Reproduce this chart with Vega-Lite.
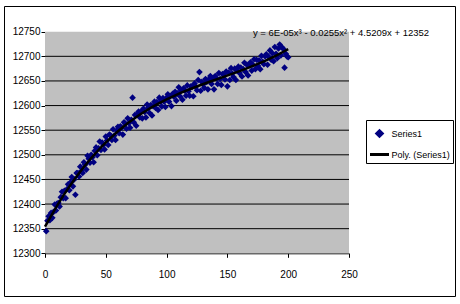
{
  "$schema": "https://vega.github.io/schema/vega-lite/v6.json",
  "width": 451,
  "height": 290,
  "autosize": {"type": "none"},
  "padding": {"left": 4, "top": 6, "right": 5, "bottom": 8},
  "background": "white",
  "config": {
    "view": {"stroke": "black", "strokeWidth": 1, "fill": "white"},
    "font": "Liberation Sans",
    "axis": {"labelOverlap": false, "labelBound": false, "labelFlush": false,
             "domainColor": "black", "tickColor": "black", "tickSize": 4, "grid": false,
             "labelColor": "black", "labelFontSize": 10, "labelFont": "Liberation Sans"},
    "axisX": {"offset": -42.7, "labelPadding": 12, "tickCount": 12},
    "axisY": {"offset": -41, "labelPadding": 1, "format": "d", "tickCount": 12}
  },
  "datasets": {
    "pts": [
      {"x":1,"y":12345},{"x":2,"y":12366},{"x":3,"y":12375},{"x":4,"y":12367},{"x":5,"y":12382},
      {"x":6,"y":12372},{"x":7,"y":12384},{"x":8,"y":12399},{"x":9,"y":12387},{"x":10,"y":12401},
      {"x":11,"y":12402},{"x":12,"y":12395},{"x":13,"y":12414},{"x":14,"y":12425},{"x":15,"y":12412},
      {"x":16,"y":12427},{"x":17,"y":12412},{"x":18,"y":12430},{"x":19,"y":12440},{"x":20,"y":12428},
      {"x":21,"y":12444},{"x":22,"y":12455},{"x":23,"y":12436},{"x":24,"y":12450},{"x":25,"y":12419},
      {"x":26,"y":12463},{"x":27,"y":12463},{"x":28,"y":12456},{"x":29,"y":12476},{"x":30,"y":12467},
      {"x":31,"y":12463},{"x":32,"y":12485},{"x":33,"y":12480},{"x":34,"y":12470},{"x":35,"y":12498},
      {"x":36,"y":12492},{"x":37,"y":12484},{"x":38,"y":12500},{"x":39,"y":12495},{"x":40,"y":12485},
      {"x":41,"y":12508},{"x":42,"y":12515},{"x":43,"y":12499},{"x":44,"y":12513},{"x":45,"y":12527},
      {"x":46,"y":12510},{"x":47,"y":12525},{"x":48,"y":12520},{"x":49,"y":12511},{"x":50,"y":12537},
      {"x":51,"y":12529},{"x":52,"y":12520},{"x":53,"y":12541},{"x":54,"y":12539},{"x":55,"y":12530},
      {"x":56,"y":12552},{"x":57,"y":12539},{"x":58,"y":12530},{"x":59,"y":12549},{"x":60,"y":12557},
      {"x":61,"y":12544},{"x":62,"y":12558},{"x":63,"y":12555},{"x":64,"y":12541},{"x":65,"y":12566},
      {"x":66,"y":12563},{"x":67,"y":12553},{"x":68,"y":12574},{"x":69,"y":12564},{"x":70,"y":12555},
      {"x":71,"y":12571},{"x":72,"y":12616},{"x":73,"y":12566},{"x":74,"y":12581},{"x":75,"y":12559},
      {"x":76,"y":12582},{"x":77,"y":12588},{"x":78,"y":12576},{"x":79,"y":12588},{"x":80,"y":12574},
      {"x":81,"y":12594},{"x":82,"y":12587},{"x":83,"y":12576},{"x":84,"y":12602},{"x":85,"y":12595},
      {"x":86,"y":12585},{"x":87,"y":12601},{"x":88,"y":12580},{"x":89,"y":12599},{"x":90,"y":12608},
      {"x":91,"y":12595},{"x":92,"y":12607},{"x":93,"y":12591},{"x":94,"y":12616},{"x":95,"y":12608},
      {"x":96,"y":12598},{"x":97,"y":12615},{"x":98,"y":12608},{"x":99,"y":12597},{"x":100,"y":12616},
      {"x":101,"y":12623},{"x":102,"y":12608},{"x":103,"y":12619},{"x":104,"y":12599},{"x":105,"y":12624},
      {"x":106,"y":12618},{"x":107,"y":12628},{"x":108,"y":12610},{"x":109,"y":12625},{"x":110,"y":12637},
      {"x":111,"y":12619},{"x":112,"y":12630},{"x":113,"y":12612},{"x":114,"y":12635},{"x":115,"y":12630},
      {"x":116,"y":12620},{"x":117,"y":12641},{"x":118,"y":12629},{"x":119,"y":12620},{"x":120,"y":12639},
      {"x":121,"y":12638},{"x":122,"y":12619},{"x":123,"y":12645},{"x":124,"y":12638},{"x":125,"y":12631},
      {"x":126,"y":12652},{"x":127,"y":12668},{"x":128,"y":12630},{"x":129,"y":12648},{"x":130,"y":12643},
      {"x":131,"y":12636},{"x":132,"y":12654},{"x":133,"y":12648},{"x":134,"y":12633},{"x":135,"y":12654},
      {"x":136,"y":12660},{"x":137,"y":12644},{"x":138,"y":12655},{"x":139,"y":12633},{"x":140,"y":12660},
      {"x":141,"y":12655},{"x":142,"y":12644},{"x":143,"y":12666},{"x":144,"y":12654},{"x":145,"y":12642},
      {"x":146,"y":12664},{"x":147,"y":12662},{"x":148,"y":12653},{"x":149,"y":12669},{"x":150,"y":12639},
      {"x":151,"y":12667},{"x":152,"y":12652},{"x":153,"y":12676},{"x":154,"y":12665},{"x":155,"y":12658},
      {"x":156,"y":12675},{"x":157,"y":12652},{"x":158,"y":12671},{"x":159,"y":12679},{"x":160,"y":12666},
      {"x":161,"y":12677},{"x":162,"y":12659},{"x":163,"y":12674},{"x":164,"y":12687},{"x":165,"y":12668},
      {"x":166,"y":12683},{"x":167,"y":12661},{"x":168,"y":12682},{"x":169,"y":12688},{"x":170,"y":12671},
      {"x":171,"y":12683},{"x":172,"y":12694},{"x":173,"y":12674},{"x":174,"y":12693},{"x":175,"y":12681},
      {"x":176,"y":12692},{"x":177,"y":12674},{"x":178,"y":12701},{"x":179,"y":12689},{"x":180,"y":12684},
      {"x":181,"y":12700},{"x":182,"y":12704},{"x":183,"y":12683},{"x":184,"y":12699},{"x":185,"y":12712},
      {"x":186,"y":12693},{"x":187,"y":12706},{"x":188,"y":12690},{"x":189,"y":12719},{"x":190,"y":12705},
      {"x":191,"y":12696},{"x":192,"y":12716},{"x":193,"y":12724},{"x":194,"y":12702},{"x":195,"y":12718},
      {"x":196,"y":12715},{"x":197,"y":12677},{"x":198,"y":12705},{"x":199,"y":12700},{"x":200,"y":12698}
    ],
    "grid": [
      {"g":12350},{"g":12400},{"g":12450},{"g":12500},{"g":12550},{"g":12600},{"g":12650},{"g":12700}
    ]
  },
  "layer": [
    {
      "data": {"values": [{}]},
      "mark": {"type": "rect", "fill": "#C0C0C0"},
      "encoding": {
        "x": {"datum": 0, "type": "quantitative", "title": null,
              "scale": {"domain": [0, 250], "range": [41, 345], "nice": false, "zero": false},
              "axis": {"values": [0, 50, 100, 150, 200, 250], "labelOverlap": false}},
        "x2": {"datum": 250},
        "y": {"datum": 12300, "type": "quantitative", "title": null,
              "scale": {"domain": [12300, 12750], "range": [247.3, 25.7], "nice": false, "zero": false},
              "axis": {"values": [12300, 12350, 12400, 12450, 12500, 12550, 12600, 12650, 12700, 12750], "labelOverlap": false}},
        "y2": {"datum": 12750}
      }
    },
    {
      "data": {"name": "grid"},
      "mark": {"type": "rule", "color": "black", "strokeWidth": 1},
      "encoding": {
        "x": {"datum": 0, "type": "quantitative", "title": null,
              "axis": {"values": [0, 50, 100, 150, 200, 250], "labelOverlap": false}},
        "x2": {"datum": 250},
        "y": {"field": "g", "type": "quantitative", "title": null,
              "axis": {"values": [12300, 12350, 12400, 12450, 12500, 12550, 12600, 12650, 12700, 12750], "labelOverlap": false}}
      }
    },
    {
      "data": {"name": "pts"},
      "mark": {"type": "point", "shape": "diamond", "filled": true, "size": 44, "opacity": 1},
      "encoding": {
        "x": {"field": "x", "type": "quantitative", "title": null,
              "axis": {"values": [0, 50, 100, 150, 200, 250], "labelOverlap": false}},
        "y": {"field": "y", "type": "quantitative", "title": null,
              "axis": {"values": [12300, 12350, 12400, 12450, 12500, 12550, 12600, 12650, 12700, 12750], "labelOverlap": false}},
        "color": {
          "datum": "Series1",
          "scale": {"domain": ["Series1", "Poly. (Series1)"], "range": ["#000080", "#000000"]},
          "legend": {
            "title": null, "orient": "none", "legendX": 362, "legendY": 114,
            "strokeColor": "black", "fillColor": "white", "padding": 2.5,
            "symbolType": "stroke",
            "symbolSize": {"expr": "datum.value === 'Series1' ? 30 : 361"},
            "symbolStrokeWidth": 3,
            "labelFont": "Liberation Sans",
            "labelFontSize": 9, "labelColor": "black", "labelOffset": 1, "rowPadding": 1,
            "encode": {
              "symbols": {
                "update": {
                  "shape": {"signal": "datum.value === 'Series1' ? 'diamond' : 'stroke'"},
                  "fill": {"signal": "datum.value === 'Series1' ? '#000080' : 'transparent'"},
                  "stroke": {"signal": "datum.value === 'Series1' ? 'transparent' : '#000000'"},
                  "strokeWidth": {"value": 3},
                  "opacity": {"value": 1}
                }
              }
            }
          }
        }
      }
    },
    {
      "data": {"name": "pts"},
      "transform": [
        {"regression": "y", "on": "x", "method": "poly", "order": 3, "extent": [0, 200]}
      ],
      "mark": {"type": "line", "strokeWidth": 2.5},
      "encoding": {
        "x": {"field": "x", "type": "quantitative", "title": null,
              "axis": {"values": [0, 50, 100, 150, 200, 250], "labelOverlap": false}},
        "y": {"field": "y", "type": "quantitative", "title": null,
              "axis": {"values": [12300, 12350, 12400, 12450, 12500, 12550, 12600, 12650, 12700, 12750], "labelOverlap": false}},
        "color": {
          "datum": "Poly. (Series1)",
          "legend": {
            "title": null, "orient": "none", "legendX": 362, "legendY": 114,
            "strokeColor": "black", "fillColor": "white", "padding": 2.5,
            "symbolType": "stroke",
            "symbolSize": {"expr": "datum.value === 'Series1' ? 30 : 361"},
            "symbolStrokeWidth": 3,
            "labelFont": "Liberation Sans",
            "labelFontSize": 9, "labelColor": "black", "labelOffset": 1, "rowPadding": 1,
            "encode": {
              "symbols": {
                "update": {
                  "shape": {"signal": "datum.value === 'Series1' ? 'diamond' : 'stroke'"},
                  "fill": {"signal": "datum.value === 'Series1' ? '#000080' : 'transparent'"},
                  "stroke": {"signal": "datum.value === 'Series1' ? 'transparent' : '#000000'"},
                  "strokeWidth": {"value": 3},
                  "opacity": {"value": 1}
                }
              }
            }
          }
        }
      }
    },
    {
      "data": {"values": [{}]},
      "mark": {"type": "text", "text": "y = 6E-05x³ - 0.0255x² + 4.5209x + 12352",
               "align": "left", "baseline": "middle", "fontSize": 9.5, "color": "black",
               "font": "Liberation Sans"},
      "encoding": {
        "x": {"datum": 171, "type": "quantitative", "title": null,
              "axis": {"values": [0, 50, 100, 150, 200, 250], "labelOverlap": false}},
        "y": {"datum": 12747, "type": "quantitative", "title": null,
              "axis": {"values": [12300, 12350, 12400, 12450, 12500, 12550, 12600, 12650, 12700, 12750], "labelOverlap": false}}
      }
    }
  ]
}
